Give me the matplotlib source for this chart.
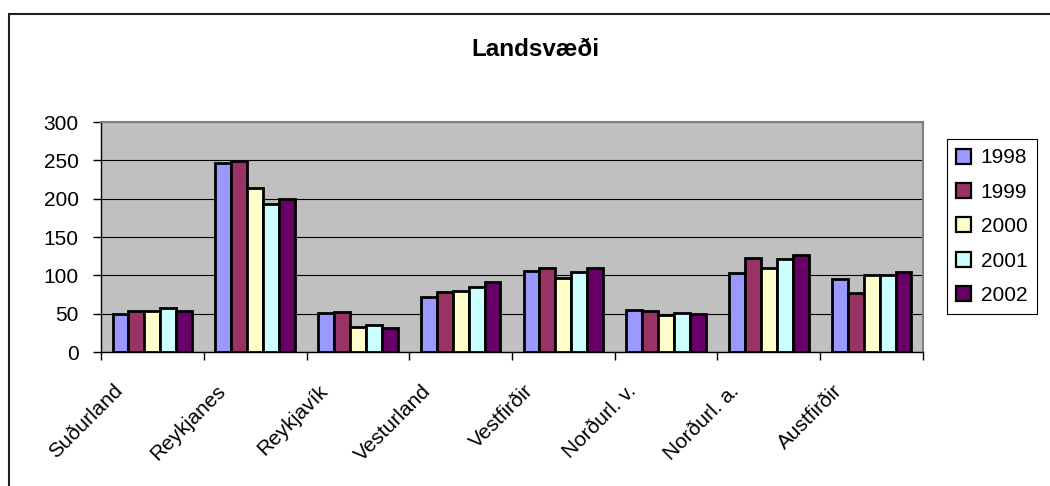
import numpy as np
import matplotlib
matplotlib.use('Agg')
import matplotlib.pyplot as plt
from matplotlib.patches import Rectangle
import matplotlib.transforms as mtransforms

plt.rcParams['font.family'] = ['Liberation Sans', 'DejaVu Sans']

# data
regions = ['Suðurland', 'Reykjanes', 'Reykjavík', 'Vesturland', 'Vestfirðir',
           'Norðurl. v.', 'Norðurl. a.', 'Austfirðir']
years   = ['1998', '1999', '2000', '2001', '2002']
v1998 = [50, 247, 51, 72, 106, 55, 103, 95]
v1999 = [53, 249, 52, 78, 109, 54, 122, 77]
v2000 = [54, 214, 33, 79, 96, 48, 109, 100]
v2001 = [57, 193, 35, 85, 105, 51, 121, 100]
v2002 = [54, 200, 31, 91, 110, 50, 126, 104]
colors = ['#9999FF', '#993366', '#FFFFCC', '#CCFFFF', '#660066']

series = [v1998, v1999, v2000, v2001, v2002]

fig = plt.figure(figsize=(10.5, 4.86), dpi=100, facecolor='white')
ax = fig.add_axes([101/1050, 1-352/486, (923-101)/1050, (352-122)/486])
ax.set_facecolor('#C0C0C0')

x = np.arange(len(regions))
w = 0.155
for i, (vals, c) in enumerate(zip(series, colors)):
    ax.bar(x + (i - 2) * w, vals, w, color=c, edgecolor='black',
           linewidth=2.0, label=years[i], zorder=3)

ax.set_xlim(-0.5, len(regions) - 0.5)
ax.set_ylim(0, 300)
ax.set_yticks(np.arange(0, 301, 50))
ax.yaxis.grid(True, color='black', linewidth=0.8, zorder=1)
ax.set_axisbelow(True)

for s in ['top', 'right']:
    ax.spines[s].set_color('#808080')
    ax.spines[s].set_linewidth(1.5)
for s in ['left', 'bottom']:
    ax.spines[s].set_color('black')
    ax.spines[s].set_linewidth(1.0)

ax.tick_params(axis='y', length=6, width=1, pad=10, labelsize=15)
ax.set_xticks(np.arange(-0.5, len(regions)), minor=True)
ax.tick_params(axis='x', which='minor', length=6, width=1)
ax.set_xticks(x)
ax.set_xticklabels(regions, rotation=45, ha='right', va='top', fontsize=15)
ax.tick_params(axis='x', which='major', length=0, pad=21)
off = mtransforms.ScaledTranslation(-0.26, 0, fig.dpi_scale_trans)
for lab in ax.get_xticklabels():
    lab.set_transform(lab.get_transform() + off)

fig.text(535/1050, 1-50/486, 'Landsvæði', ha='center', va='center',
         fontsize=17.5, fontweight='bold')

leg = ax.legend(loc='upper left', bbox_to_anchor=(947/1050, 1-139/486),
                bbox_transform=fig.transFigure, fontsize=15, frameon=True,
                fancybox=False, edgecolor='black', framealpha=1,
                handlelength=0.72, handleheight=0.72, handletextpad=0.45,
                labelspacing=0.74, borderpad=0.45, borderaxespad=0)
leg.get_frame().set_linewidth(0.8)
for h in leg.legend_handles:
    h.set_linewidth(1.6)

# outer chart border
fig.add_artist(Rectangle((9/1050, -0.1), 1.2, 1.1 - 14/486, transform=fig.transFigure,
                         fill=False, edgecolor='#202020', linewidth=1.5))

fig.savefig('out.png', dpi=100, facecolor='white')
